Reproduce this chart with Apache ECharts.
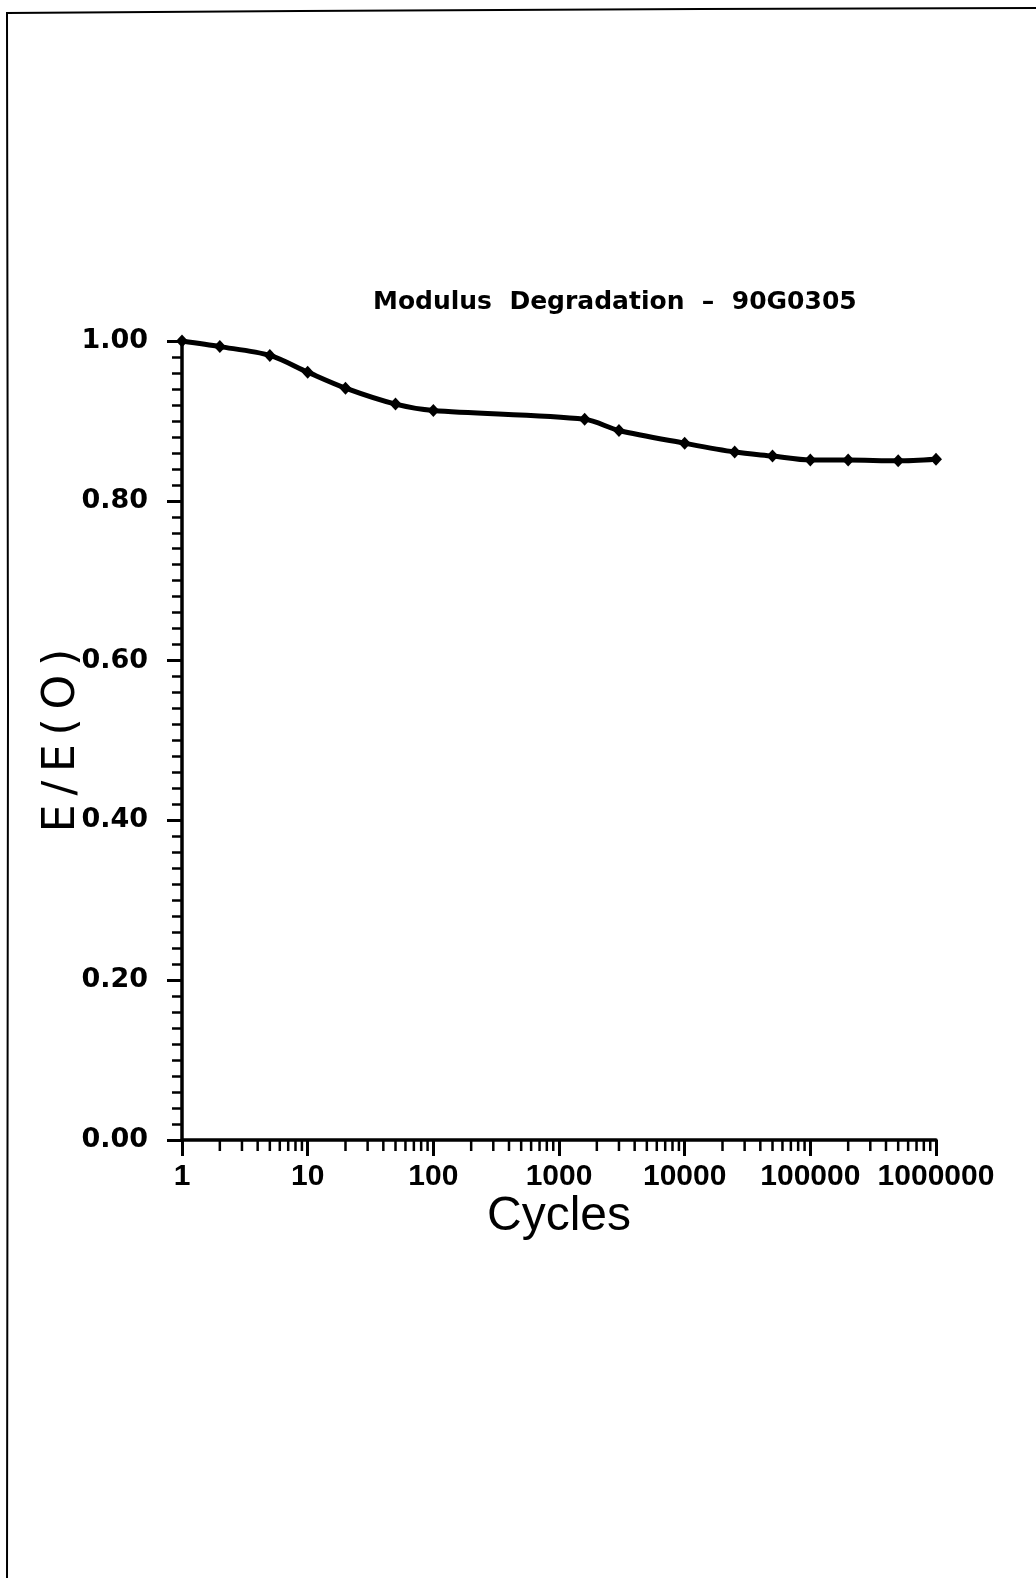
<!DOCTYPE html>
<html>
<head>
<meta charset="utf-8">
<script src="https://cdn.jsdelivr.net/npm/echarts@6/dist/echarts.min.js"></script>
<style>
  html, body { margin: 0; padding: 0; background: #fff; }
  #chart { width: 1036px; height: 1578px; }
</style>
</head>
<body>
<div id="chart"></div>
<script>
// ---- data ----
const cycles = [1, 2, 5, 10, 20, 50, 100, 1600, 3000, 10000, 25000, 50000, 100000, 200000, 500000, 1000000];
const modulusRatio = [1.000, 0.993, 0.982, 0.961, 0.941, 0.921, 0.913, 0.902, 0.888, 0.872, 0.861, 0.856, 0.851, 0.851, 0.850, 0.852];
const xTickLabels = ['1', '10', '100', '1000', '10000', '100000', '1000000'];
const yTickLabels = ['0.00', '0.20', '0.40', '0.60', '0.80', '1.00'];
const xMinorTicks = [
  2, 3, 4, 5, 6, 7, 8, 9,
  20, 30, 40, 50, 60, 70, 80, 90,
  200, 300, 400, 500, 600, 700, 800, 900,
  2000, 3000, 4000, 5000, 6000, 7000, 8000, 9000,
  20000, 30000, 40000, 50000, 60000, 70000, 80000, 90000,
  200000, 300000, 400000, 500000, 600000, 700000, 800000, 900000
];
const titleText = 'Modulus  Degradation  \u2013  90G0305';
const xName = 'Cycles';
const yName = 'E\u2009/\u2009E\u2009(\u2009O\u2009)';

const chart = echarts.init(document.getElementById('chart'), null, { renderer: 'canvas' });

const option = {
  backgroundColor: '#ffffff',
  animation: false,
  title: {
    text: titleText,
    left: 368,
    top: 285,
    textStyle: { fontFamily: 'DejaVu Sans', fontWeight: 'bold', fontSize: 25, color: '#000' }
  },
  grid: { left: 182, right: 100, top: 341, bottom: 438, containLabel: false, outerBoundsMode: 'none' },
  xAxis: {
    type: 'log',
    logBase: 10,
    min: 1,
    max: 1000000,
    name: xName,
    nameLocation: 'middle',
    nameGap: 53,
    nameMoveOverlap: false,
    nameTextStyle: { fontFamily: 'Liberation Sans', fontSize: 48, color: '#000' },
    axisLine: { show: true, onZero: false, lineStyle: { color: '#000', width: 3.5 } },
    axisTick: { show: true, length: 16, lineStyle: { color: '#000', width: 3 } },
    minorTick: { show: false },
    splitLine: { show: false },
    axisLabel: {
      margin: 22,
      color: '#000',
      fontFamily: 'Liberation Sans Narrow, Liberation Sans',
      fontWeight: 'bold',
      fontSize: 30,
      formatter: function (v) { return xTickLabels[Math.round(Math.log10(v))]; }
    }
  },
  yAxis: {
    type: 'value',
    min: 0,
    max: 1,
    interval: 0.2,
    name: yName,
    nameLocation: 'middle',
    nameRotate: 90,
    nameGap: 97,
    nameMoveOverlap: false,
    nameTextStyle: { fontFamily: 'DejaVu Sans', fontSize: 44, color: '#000' },
    axisLine: { show: true, lineStyle: { color: '#000', width: 3.5 } },
    axisTick: { show: true, length: 15, lineStyle: { color: '#000', width: 3 } },
    minorTick: { show: true, splitNumber: 10, length: 10, lineStyle: { color: '#000', width: 2.5 } },
    splitLine: { show: false },
    axisLabel: {
      margin: 34,
      color: '#000',
      fontFamily: 'DejaVu Sans',
      fontWeight: 'bold',
      fontSize: 27,
      formatter: function (v) { return yTickLabels[Math.round(v / 0.2)]; }
    }
  },
  graphic: [
    { type: 'polyline', shape: { points: [[7, 1578], [8, 700], [7, 13], [300, 11], [700, 9], [1036, 8]] }, style: { stroke: '#000', lineWidth: 2, fill: null } }
  ],
  series: [
    {
      type: 'custom',
      silent: true,
      clip: false,
      data: xMinorTicks.map(function (v) { return [v, 0]; }),
      encode: { x: 0, y: 1 },
      renderItem: function (params, api) {
        const p = api.coord([api.value(0), 0]);
        return {
          type: 'line',
          shape: { x1: p[0], y1: p[1], x2: p[0], y2: p[1] + 11 },
          style: { stroke: '#000', lineWidth: 2.5 }
        };
      },
      z: 1
    },
    {
      type: 'line',
      data: cycles.map(function (c, i) { return [c, modulusRatio[i]]; }),
      smooth: 0.3,
      symbol: 'diamond',
      symbolSize: [12, 13],
      showSymbol: true,
      itemStyle: { color: '#000' },
      lineStyle: { color: '#000', width: 5 },
      clip: false,
      z: 3
    }
  ]
};

chart.setOption(option);
</script>
</body>
</html>
